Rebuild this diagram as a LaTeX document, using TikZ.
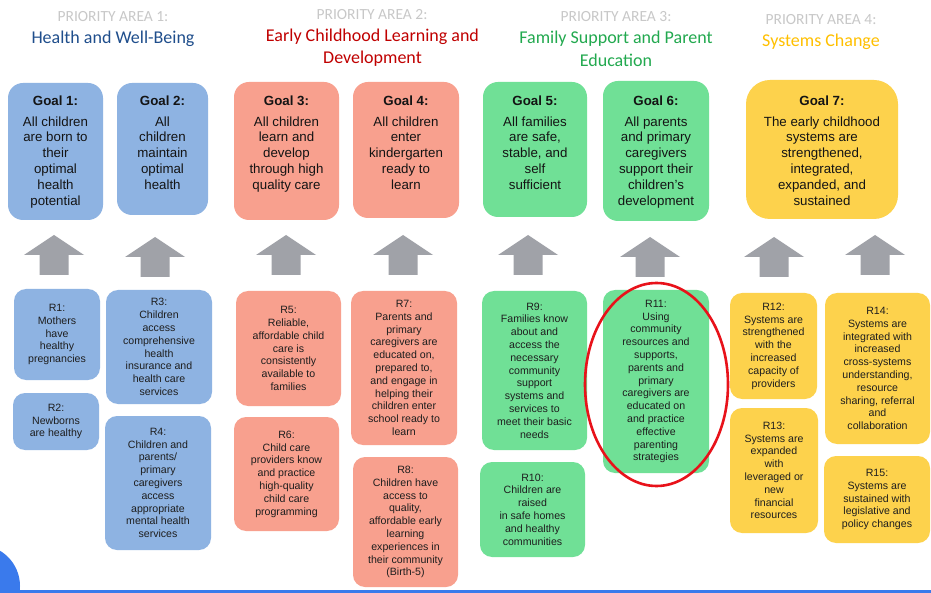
\documentclass[tikz,border=0pt]{standalone}
\usepackage{fontspec}
\setmainfont{Liberation Sans}
\newfontfamily\calfont{Carlito}
\definecolor{cblue}{RGB}{142,179,226}
\definecolor{cred}{RGB}{248,160,142}
\definecolor{cgreen}{RGB}{112,224,150}
\definecolor{cyellow}{RGB}{253,210,76}
\definecolor{arrowgray}{RGB}{160,162,168}
\definecolor{plabel}{RGB}{200,200,200}
\definecolor{tblue}{RGB}{31,78,140}
\definecolor{tred}{RGB}{192,0,0}
\definecolor{tgreen}{RGB}{34,169,79}
\definecolor{tyellow}{RGB}{255,192,0}
\definecolor{rtext}{RGB}{30,30,30}
\definecolor{gtextc}{RGB}{20,20,20}
\definecolor{ringred}{RGB}{232,18,26}
\definecolor{barblue}{RGB}{58,122,236}
\begin{document}
\begin{tikzpicture}[x=1pt,y=-1pt,
  rbox/.style={rounded corners=12pt, inner sep=0pt, align=center, text=rtext,
    font=\fontsize{10.6}{12.8}\selectfont},
  gbox/.style={rounded corners=15pt, inner sep=0pt},
  gtext/.style={anchor=north, inner sep=0pt, align=center, text=gtextc,
    font=\fontsize{13.3}{15.8}\selectfont},
  plab/.style={text=plabel, inner sep=0pt, font=\calfont\fontsize{15.5}{18}\selectfont},
  ptitle/.style={inner sep=0pt, align=center, font=\calfont\fontsize{18}{22.5}\selectfont},
  uparr/.pic={\fill[arrowgray] (-30,0)--(0,-20)--(30,0)--(14.5,0)--(14.5,20)--(-14.5,20)--(-14.5,0)--cycle;}
]
\useasboundingbox (0,0) rectangle (931,593);
\fill[white] (0,0) rectangle (931,593);

% headers
\node[plab] (p1) at (113,17) {PRIORITY AREA 1:};
\node[ptitle, text=tblue] (t1) at (113,39) {Health and Well-Being};
\node[plab] (p2) at (372,14.5) {PRIORITY AREA 2:};
\node[ptitle, text=tred] (t2) at (372.5,47.5) {Early Childhood Learning and\\Development};
\node[plab] (p3) at (616,17) {PRIORITY AREA 3:};
\node[ptitle, text=tgreen] (t3) at (616,49) {Family Support and Parent\\Education};
\node[plab] (p4) at (821,19.5) {PRIORITY AREA 4:};
\node[ptitle, text=tyellow] (t4) at (821,42) {Systems Change};

% goal boxes
\coordinate (gtop) at (0,95.5);
\node[gbox, fill=cblue, minimum width=95pt, minimum height=137pt] (g1) at (55.5,151.5) {};
\node[gbox, fill=cblue, minimum width=91pt, minimum height=132pt] (g2) at (162.5,149) {};
\node[gbox, fill=cred, minimum width=105pt, minimum height=138pt] (g3) at (286.5,151) {};
\node[gbox, fill=cred, minimum width=106pt, minimum height=136pt] (g4) at (406,150) {};
\node[gbox, fill=cgreen, minimum width=104pt, minimum height=135pt] (g5) at (535,149.5) {};
\node[gbox, fill=cgreen, minimum width=106pt, minimum height=140pt] (g6) at (656,151) {};
\node[gbox, fill=cyellow, rounded corners=24pt, minimum width=152pt, minimum height=139pt] (g7) at (822,149.5) {};

\node[gtext] (g1t) at (g1.north |- gtop) {\textbf{Goal 1:}\\[5pt]All children\\are born to\\their\\optimal\\health\\potential};
\node[gtext] (g2t) at (g2.north |- gtop) {\textbf{Goal 2:}\\[5pt]All\\children\\maintain\\optimal\\health};
\node[gtext] (g3t) at (g3.north |- gtop) {\textbf{Goal 3:}\\[5pt]All children\\learn and\\develop\\through high\\quality care};
\node[gtext] (g4t) at (g4.north |- gtop) {\textbf{Goal 4:}\\[5pt]All children\\enter\\kindergarten\\ready to\\learn};
\node[gtext] (g5t) at (g5.north |- gtop) {\textbf{Goal 5:}\\[5pt]All families\\are safe,\\stable, and\\self\\sufficient};
\node[gtext] (g6t) at (g6.north |- gtop) {\textbf{Goal 6:}\\[5pt]All parents\\and primary\\caregivers\\support their\\children's\\development};
\node[gtext] (g7t) at (g7.north |- gtop) {\textbf{Goal 7:}\\[5pt]The early childhood\\systems are\\strengthened,\\integrated,\\expanded, and\\sustained};

% arrows
\pic at (54,255) {uparr};
\pic at (155,257) {uparr};
\pic at (286,255) {uparr};
\pic at (403,255) {uparr};
\pic at (528,255) {uparr};
\pic at (650,257) {uparr};
\pic at (774,257) {uparr};
\pic at (875,255) {uparr};

% result boxes
\node[rbox, fill=cblue, minimum width=86pt, minimum height=91pt] (r1) at (57,334.5) {R1:\\Mothers\\have\\healthy\\pregnancies};
\node[rbox, fill=cblue, minimum width=86pt, minimum height=57pt] (r2) at (56,421.5) {R2:\\Newborns\\are healthy};
\node[rbox, fill=cblue, minimum width=106pt, minimum height=114pt] (r3) at (159,347) {R3:\\Children\\access\\comprehensive\\health\\insurance and\\health care\\services};
\node[rbox, fill=cblue, minimum width=106pt, minimum height=134pt] (r4) at (158,483) {R4:\\Children and\\parents/\\primary\\caregivers\\access\\appropriate\\mental health\\services};
\node[rbox, fill=cred, minimum width=105pt, minimum height=115pt] (r5) at (288.5,348.5) {R5:\\Reliable,\\affordable child\\care is\\consistently\\available to\\families};
\node[rbox, fill=cred, minimum width=105pt, minimum height=114pt] (r6) at (286.5,474) {R6:\\Child care\\providers know\\and practice\\high-quality\\child care\\programming};
\node[rbox, fill=cred, minimum width=106pt, minimum height=154pt] (r7) at (404,368) {R7:\\Parents and\\primary\\caregivers are\\educated on,\\prepared to,\\and engage in\\helping their\\children enter\\school ready to\\learn};
\node[rbox, fill=cred, minimum width=105pt, minimum height=130pt] (r8) at (405.5,522) {R8:\\Children have\\access to\\quality,\\affordable early\\learning\\experiences in\\their community\\(Birth-5)};
\node[rbox, fill=cgreen, minimum width=105pt, minimum height=159pt] (r9) at (534.5,370.5) {R9:\\Families know\\about and\\access the\\necessary\\community\\support\\systems and\\services to\\meet their basic\\needs};
\node[rbox, fill=cgreen, minimum width=105pt, minimum height=95pt] (r10) at (532.5,509.5) {R10:\\Children are\\raised\\in safe homes\\and healthy\\communities};
\node[rbox, fill=cgreen, minimum width=106pt, minimum height=183pt] (r11) at (656,381.5) {R11:\\Using\\community\\resources and\\supports,\\parents and\\primary\\caregivers are\\educated on\\and practice\\effective\\parenting\\strategies};
\node[rbox, fill=cyellow, minimum width=87pt, minimum height=106pt] (r12) at (773.5,346) {R12:\\Systems are\\strengthened\\with the\\increased\\capacity of\\providers};
\node[rbox, fill=cyellow, minimum width=88pt, minimum height=125pt] (r13) at (774,470.5) {R13:\\Systems are\\expanded\\with\\leveraged or\\new\\financial\\resources};
\node[rbox, fill=cyellow, minimum width=105pt, minimum height=151pt] (r14) at (877.5,368.5) {R14:\\Systems are\\integrated with\\increased\\cross-systems\\understanding,\\resource\\sharing, referral\\and\\collaboration};
\node[rbox, fill=cyellow, minimum width=106pt, minimum height=87pt] (r15) at (877,499.5) {R15:\\Systems are\\sustained with\\legislative and\\policy changes};

% red ring
\draw[ringred, line width=2.6pt] (656.5,384.5) ellipse [x radius=71.5, y radius=101.5];

% bottom decoration
\begin{scope}
\clip (0,0) rectangle (931,593);
\fill[barblue] (-21,586) circle [radius=41];
\fill[barblue] (18,589.5) rectangle (931,593);
\end{scope}
\end{tikzpicture}
\end{document}
